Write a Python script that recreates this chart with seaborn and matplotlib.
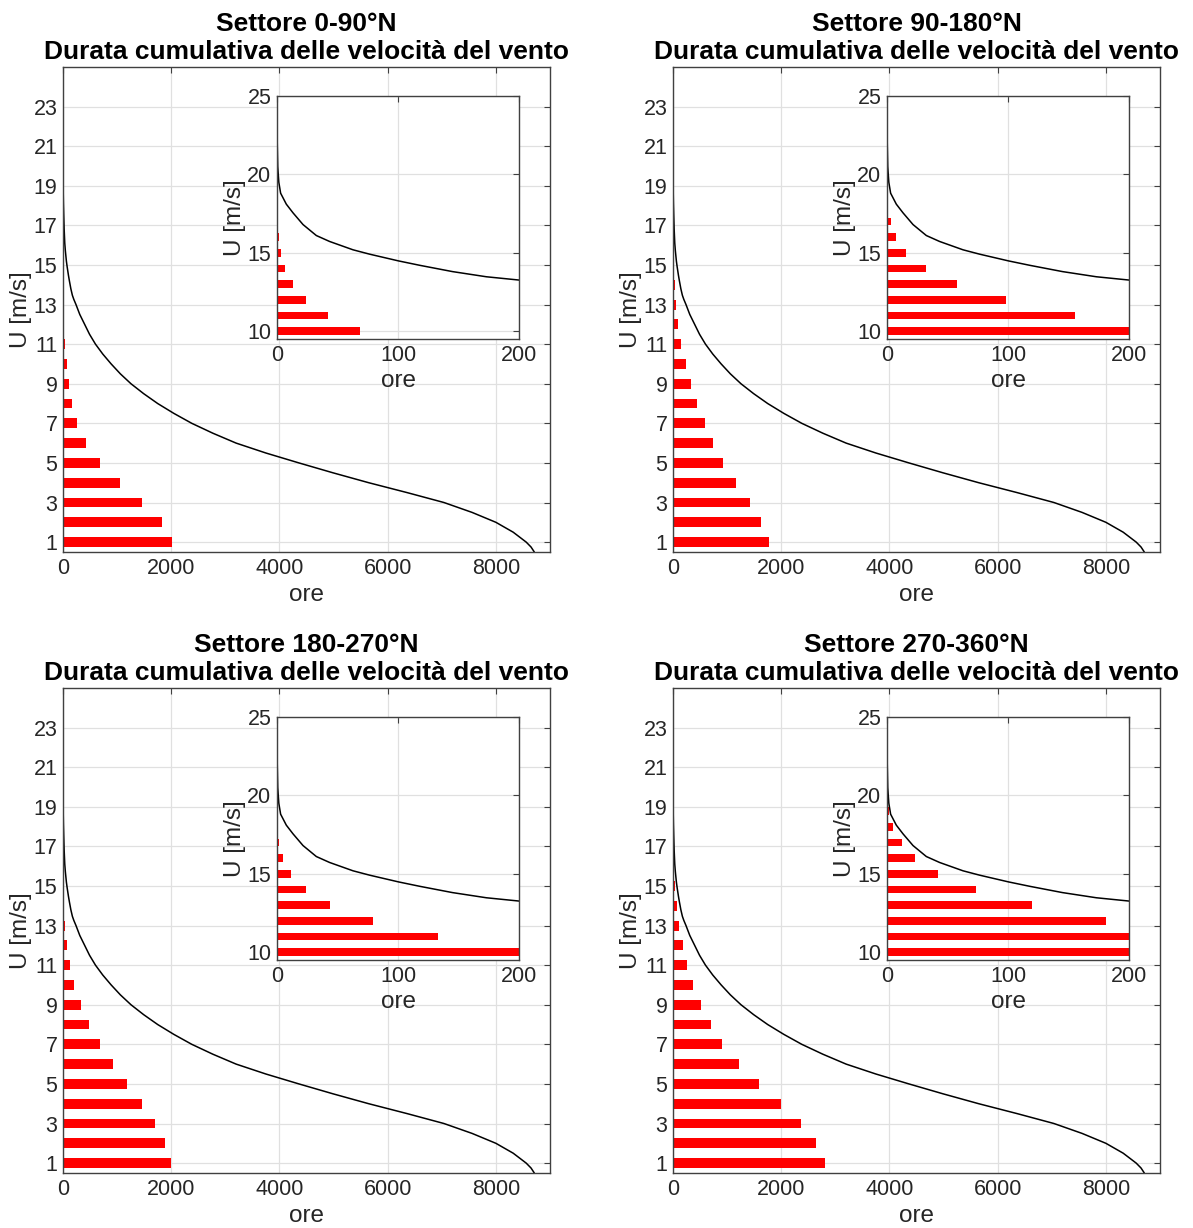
import numpy as np
import pandas as pd
import seaborn as sns
import matplotlib
matplotlib.use("Agg")
import matplotlib.pyplot as plt

# ---------------- data ----------------
titoli = ["Settore 0-90°N", "Settore 90-180°N", "Settore 180-270°N", "Settore 270-360°N"]
sottotitolo = "Durata cumulativa delle velocità del vento"

# cumulative duration curve (hours for which U is exceeded)
curva_ore = [0, 0.2, 0.6, 1.5, 3, 7.7, 13.2, 21.5, 32.5, 43.5, 62.8, 76.6,
             100.5, 118, 145, 173, 200, 240, 310, 400, 490, 600, 735, 890,
             1060, 1256, 1490, 1750, 2050, 2380, 2770, 3200, 3750, 4360,
             4990, 5650, 6360, 7040, 7560, 8000, 8320, 8560, 8650, 8710]
curva_U = [23.8, 22.0, 20.5, 19.5, 18.8, 18.1, 17.55, 16.8, 16.1, 15.72,
           15.19, 14.91, 14.48, 14.2, 13.8, 13.47, 13.26, 13.0, 12.5, 12.0,
           11.5, 11.0, 10.5, 10.0, 9.5, 9.0, 8.5, 8.0, 7.5, 7.0, 6.5, 6.0,
           5.5, 5.0, 4.5, 4.0, 3.5, 3.0, 2.5, 2.0, 1.5, 1.0, 0.75, 0.5]

# hours per speed class (red bars)
velocita_1 = list(range(1, 19))
ore_1 = [2010, 1825, 1461, 1051, 688, 430, 258, 165, 112, 69, 42, 24, 13.3,
         6.5, 3.3, 1.5, 0.9, 0.3]
velocita_2 = list(range(1, 20))
ore_2 = [1772, 1633, 1415, 1157, 932, 747, 588, 443, 331, 238, 155, 98, 57.7,
         32.5, 16, 7.1, 3.0, 1.2, 0.4]
velocita_3 = list(range(1, 19))
ore_3 = [2003, 1878, 1699, 1461, 1190, 926, 681, 483, 331, 212, 133, 79.6,
         44, 23.7, 11.8, 4.7, 1.5, 0.3]
velocita_4 = list(range(1, 22))
ore_4 = [2803, 2651, 2374, 2003, 1593, 1223, 912, 694, 516, 370, 258, 181,
         119.5, 73.7, 42, 23, 12.4, 5.3, 1.8, 0.6, 0.2]

velocita = [velocita_1, velocita_2, velocita_3, velocita_4]
ore = [ore_1, ore_2, ore_3, ore_4]

# ---------------- style ----------------
sns.set_style("white")
plt.rcParams["font.family"] = ["Liberation Sans", "DejaVu Sans"]
AX_COL = "#262626"
SPINE_COL = "#404040"

fig = plt.figure(figsize=(11.93, 12.28), dpi=100)
W, H = 1193.0, 1228.0

main_pos = [(63, 67, 550, 552), (673, 67, 1160, 552),
            (63, 688, 550, 1173), (673, 688, 1160, 1173)]
inset_pos = [(277, 96, 519, 339), (887, 96, 1129, 339),
             (277, 717, 519, 960), (887, 717, 1129, 960)]


def rect(p):
    l, t, r, b = p
    return [l / W, 1 - b / H, (r - l) / W, (b - t) / H]


def style_axes(ax):
    for s in ax.spines.values():
        s.set_color(SPINE_COL)
        s.set_linewidth(1.0)
        s.set_visible(True)
    ax.tick_params(direction="in", top=True, right=True, length=4,
                   width=0.8, color=SPINE_COL, labelcolor=AX_COL,
                   labelsize=15.5, pad=4)
    ax.grid(True, color="#e0e0e0", linewidth=0.9)
    ax.set_axisbelow(True)


for i in range(4):
    df = pd.DataFrame({"U": velocita[i], "ore": ore[i]})
    dc = pd.DataFrame({"U": curva_U, "ore": curva_ore})

    ax = fig.add_axes(rect(main_pos[i]))
    sns.barplot(data=df, x="ore", y="U", orient="h", native_scale=True,
                width=0.5, color="red", saturation=1, errorbar=None, ax=ax,
                linewidth=0)
    sns.lineplot(data=dc, x="ore", y="U", sort=False, estimator=None,
                 color="black", linewidth=1.1, ax=ax)
    ax.set_xlim(0, 9000)
    ax.set_ylim(0.5, 25)
    ax.set_xticks([0, 2000, 4000, 6000, 8000])
    ax.set_yticks(list(range(1, 24, 2)))
    style_axes(ax)
    ax.set_xlabel("ore", fontsize=17.5, color=AX_COL, labelpad=4)
    ax.set_ylabel("U [m/s]", fontsize=17.5, color=AX_COL, labelpad=1)
    ax.set_title(titoli[i] + "\n" + sottotitolo, fontsize=19,
                 fontweight="bold", color="black", pad=6, linespacing=1.2)

    axi = fig.add_axes(rect(inset_pos[i]))
    axi.set_facecolor("white")
    sns.barplot(data=df, x="ore", y="U", orient="h", native_scale=True,
                width=0.5, color="red", saturation=1, errorbar=None, ax=axi,
                linewidth=0)
    sns.lineplot(data=dc, x="ore", y="U", sort=False, estimator=None,
                 color="black", linewidth=1.1, ax=axi)
    axi.set_xlim(0, 200)
    axi.set_ylim(9.5, 25)
    axi.set_xticks([0, 100, 200])
    axi.set_yticks([10, 15, 20, 25])
    style_axes(axi)
    axi.set_xlabel("ore", fontsize=17.5, color=AX_COL, labelpad=3)
    axi.set_ylabel("U [m/s]", fontsize=17.5, color=AX_COL, labelpad=1)

fig.savefig("out.png", dpi=100, facecolor="white")
